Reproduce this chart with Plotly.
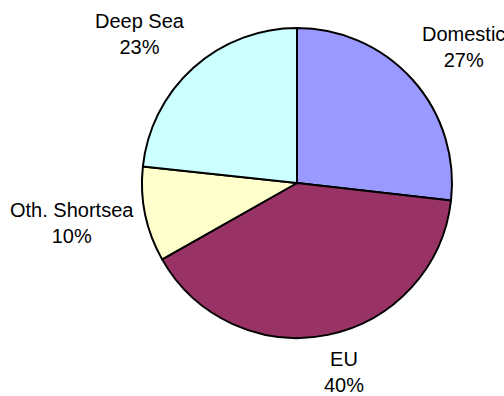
import math
import plotly.graph_objects as go

categories = ["Domestic", "EU", "Oth. Shortsea", "Deep Sea"]
values = [26.8, 40.0, 9.9, 23.3]
colors = ["#9999FF", "#993366", "#FFFFCC", "#CCFFFF"]

W, H = 504, 396
CX, CY, R = 297, 183, 155  # pie centre / radius in pixels
GAP = 10
FS = 20
# small pixel nudges (dx, dy screen) to mimic the original label placement
LABEL_NUDGE = {"EU": (14, 1), "Oth. Shortsea": (1, 7)}

fig = go.Figure(go.Pie(
    labels=categories,
    values=values,
    sort=False,
    direction="clockwise",
    rotation=0,
    textinfo="none",
    hoverinfo="label+percent",
    marker=dict(colors=colors, line=dict(color="black", width=2)),
    domain=dict(x=[(CX - R) / W, (CX + R) / W], y=[(H - CY - R) / H, (H - CY + R) / H]),
    showlegend=False,
))

total = sum(values)
cum = 0.0
annotations = []
for cat, v in zip(categories, values):
    mid = (cum + v / 2) / total * 2 * math.pi
    cum += v
    dx, dy = math.sin(mid), -math.cos(mid)  # screen direction (y down)
    nx, ny = LABEL_NUDGE.get(cat, (0, 0))
    px = CX + (R + GAP) * dx + nx
    py = CY + (R + GAP) * dy + ny
    xanchor = "left" if dx > 0.3 else ("right" if dx < -0.3 else "center")
    yanchor = "top" if dy > 0.3 else ("bottom" if dy < -0.3 else "middle")
    pct = round(v / total * 100)
    annotations.append(dict(
        x=px / W, y=1 - py / H, xref="paper", yref="paper",
        text=f"{cat}<br>{pct}%", showarrow=False, align="center",
        xanchor=xanchor, yanchor=yanchor,
        font=dict(family="Arial, Liberation Sans, sans-serif", size=FS, color="black"),
    ))

fig.update_layout(
    width=W, height=H,
    margin=dict(l=0, r=0, t=0, b=0),
    paper_bgcolor="white",
    plot_bgcolor="white",
    annotations=annotations,
)

fig.write_html(
    "out.html",
    config={"displayModeBar": False},
    post_script="document.body.style.margin='0';document.body.style.overflow='hidden';",
)
